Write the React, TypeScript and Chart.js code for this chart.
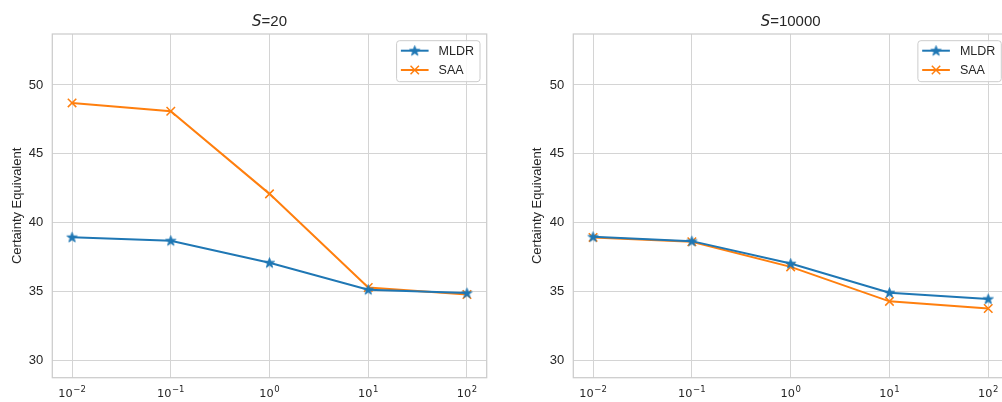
import React, { useEffect, useRef } from "react";
import { Chart, registerables } from "chart.js";

Chart.register(...registerables);

// ---- data ----
const xValues = [0.01, 0.1, 1, 10, 100];
const xTickBase = "10";
const xTickExponents = ["−2", "−1", "0", "1", "2"];
const yTicks = [30, 35, 40, 45, 50];
const seriesNames = ["MLDR", "SAA"];
const panelSizes = ["20", "10000"];
const yAxisLabel = "Certainty Equivalent";

const mldrS20 = [38.95, 38.7, 37.1, 35.15, 34.9];
const saaS20 = [48.7, 48.1, 42.1, 35.3, 34.8];
const mldrS10000 = [38.98, 38.67, 37.04, 34.93, 34.47];
const saaS10000 = [38.94, 38.62, 36.8, 34.3, 33.78];

// ---- style ----
const BLUE = "#1f77b4";
const ORANGE = "#ff7f0e";
const GRID = "#d4d4d4";
const TXT = "#262626";
const FONT = '"Liberation Sans", Arial, sans-serif';
const MATH_FONT = '"DejaVu Sans", sans-serif';
const Y_MIN = 28.76;
const Y_MAX = 53.7;
const X_MIN = Math.pow(10, -2.2);
const X_MAX = Math.pow(10, 2.2);

function makeStar(color: string): HTMLCanvasElement {
  const c = document.createElement("canvas");
  c.width = 13;
  c.height = 13;
  const ctx = c.getContext("2d")!;
  const cx = 6.5, cy = 6.8, ro = 5.4, ri = 2.2;
  ctx.beginPath();
  for (let i = 0; i < 10; i++) {
    const r = i % 2 === 0 ? ro : ri;
    const a = -Math.PI / 2 + (i * Math.PI) / 5;
    const px = cx + r * Math.cos(a);
    const py = cy + r * Math.sin(a);
    if (i === 0) ctx.moveTo(px, py);
    else ctx.lineTo(px, py);
  }
  ctx.closePath();
  ctx.fillStyle = color;
  ctx.fill();
  ctx.strokeStyle = color;
  ctx.lineWidth = 0.8;
  ctx.stroke();
  return c;
}

const framePlugin = {
  id: "frame",
  beforeDatasetsDraw(chart: any) {
    const { ctx, chartArea: a } = chart;
    ctx.save();
    ctx.strokeStyle = "#cccccc";
    ctx.lineWidth = 1.25;
    ctx.strokeRect(a.left, a.top, a.right - a.left, a.bottom - a.top);
    ctx.restore();
  },
};

const xLabelPlugin = {
  id: "powerLabels",
  afterDraw(chart: any) {
    const { ctx } = chart;
    const scale = chart.scales.x;
    ctx.save();
    ctx.fillStyle = TXT;
    ctx.textAlign = "left";
    ctx.textBaseline = "alphabetic";
    const baseFont = `11.3px ${MATH_FONT}`;
    const supFont = `8.5px ${MATH_FONT}`;
    scale.ticks.forEach((t: any, i: number) => {
      const x = scale.getPixelForValue(t.value);
      const exp = xTickExponents[i];
      ctx.font = baseFont;
      const wb = ctx.measureText(xTickBase).width;
      ctx.font = supFont;
      const ws = ctx.measureText(exp).width;
      const gap = 0.6;
      const x0 = x - (wb + ws + gap) / 2;
      const baseY = scale.top + 19;
      ctx.font = baseFont;
      ctx.fillText(xTickBase, x0, baseY);
      ctx.font = supFont;
      ctx.fillText(exp, x0 + wb + gap, baseY - 4.5);
    });
    ctx.restore();
  },
};

function makeTitlePlugin(sizeText: string) {
  return {
    id: "panelTitle",
    afterDraw(chart: any) {
      const { ctx, chartArea: a } = chart;
      ctx.save();
      const fItalic = `oblique 15px ${MATH_FONT}`;
      const fNormal = `15px ${FONT}`;
      ctx.font = fItalic;
      const w1 = ctx.measureText("S").width;
      ctx.font = fNormal;
      const rest = "=" + sizeText;
      const w2 = ctx.measureText(rest).width;
      const cx = (a.left + a.right) / 2;
      const x0 = cx - (w1 + w2) / 2;
      ctx.fillStyle = TXT;
      ctx.textBaseline = "alphabetic";
      ctx.textAlign = "left";
      ctx.font = fItalic;
      ctx.fillText("S", x0, 26.3);
      ctx.font = fNormal;
      ctx.fillText(rest, x0 + w1, 26.3);
      ctx.restore();
    },
  };
}

function makeLegendPlugin(star: HTMLCanvasElement) {
  return {
    id: "boxLegend",
    afterDraw(chart: any) {
      const { ctx, chartArea: a } = chart;
      const ds = chart.data.datasets;
      ctx.save();
      ctx.font = `12.5px ${FONT}`;
      let tw = 0;
      ds.forEach((d: any) => (tw = Math.max(tw, ctx.measureText(d.label).width)));
      const boxW = 4.3 + 27.7 + 10 + tw + 6;
      const boxH = 41;
      const right = a.right - 6.7;
      const top = a.top + 6.7;
      const left = right - boxW;
      const r = 3;
      ctx.beginPath();
      ctx.moveTo(left + r, top);
      ctx.lineTo(right - r, top);
      ctx.arcTo(right, top, right, top + r, r);
      ctx.lineTo(right, top + boxH - r);
      ctx.arcTo(right, top + boxH, right - r, top + boxH, r);
      ctx.lineTo(left + r, top + boxH);
      ctx.arcTo(left, top + boxH, left, top + boxH - r, r);
      ctx.lineTo(left, top + r);
      ctx.arcTo(left, top, left + r, top, r);
      ctx.closePath();
      ctx.fillStyle = "rgba(255,255,255,0.8)";
      ctx.fill();
      ctx.strokeStyle = "#cccccc";
      ctx.lineWidth = 1;
      ctx.stroke();
      ds.forEach((d: any, i: number) => {
        const y = top + 10 + i * 19.3;
        const x1 = left + 4.3;
        const x2 = x1 + 27.7;
        const mx = (x1 + x2) / 2;
        ctx.strokeStyle = d.borderColor;
        ctx.lineWidth = 2;
        ctx.beginPath();
        ctx.moveTo(x1, y);
        ctx.lineTo(x2, y);
        ctx.stroke();
        if (i === 0) {
          ctx.drawImage(star, mx - star.width / 2, y - star.height / 2);
        } else {
          const h = 4.2;
          ctx.lineWidth = 1.5;
          ctx.beginPath();
          ctx.moveTo(mx - h, y - h);
          ctx.lineTo(mx + h, y + h);
          ctx.moveTo(mx - h, y + h);
          ctx.lineTo(mx + h, y - h);
          ctx.stroke();
        }
        ctx.fillStyle = TXT;
        ctx.textAlign = "left";
        ctx.textBaseline = "middle";
        ctx.fillText(d.label, x2 + 10, y + 0.8);
      });
      ctx.restore();
    },
  };
}

type PanelProps = {
  left: number;
  width: number;
  axisWidth: number;
  padRight: number;
  sizeText: string;
  mldr: number[];
  saa: number[];
};

function Panel({ left, width, axisWidth, padRight, sizeText, mldr, saa }: PanelProps) {
  const ref = useRef<HTMLCanvasElement | null>(null);
  useEffect(() => {
    if (!ref.current) return;
    const star = makeStar(BLUE);
    const chart = new Chart(ref.current, {
      type: "line",
      data: {
        datasets: [
          {
            label: seriesNames[0],
            data: xValues.map((x, i) => ({ x, y: mldr[i] })),
            borderColor: BLUE,
            backgroundColor: BLUE,
            borderWidth: 2,
            pointStyle: star as any,
            pointRadius: 6,
            pointHoverRadius: 6,
            tension: 0,
          },
          {
            label: seriesNames[1],
            data: xValues.map((x, i) => ({ x, y: saa[i] })),
            borderColor: ORANGE,
            backgroundColor: ORANGE,
            borderWidth: 2,
            pointStyle: "crossRot",
            pointRadius: 6,
            pointHoverRadius: 6,
            pointBorderWidth: 1.5,
            pointBorderColor: ORANGE,
            tension: 0,
          },
        ],
      },
      options: {
        animation: false,
        responsive: false,
        maintainAspectRatio: false,
        events: [],
        layout: { padding: { left: 0, top: 34, right: padRight, bottom: 0 } },
        plugins: {
          legend: { display: false },
          title: { display: false },
          tooltip: { enabled: false },
        },
        scales: {
          x: {
            type: "logarithmic",
            min: X_MIN,
            max: X_MAX,
            afterBuildTicks: (s: any) => {
              s.ticks = xValues.map((v) => ({ value: v }));
            },
            afterFit: (s: any) => {
              s.height = 24.3;
            },
            grid: { color: GRID, lineWidth: 1, drawTicks: false },
            border: { display: false },
            ticks: { display: false, autoSkip: false, maxRotation: 0 },
          },
          y: {
            type: "linear",
            min: Y_MIN,
            max: Y_MAX,
            afterBuildTicks: (s: any) => {
              s.ticks = yTicks.map((v) => ({ value: v }));
            },
            afterFit: (s: any) => {
              s.width = axisWidth;
            },
            grid: { color: GRID, lineWidth: 1, drawTicks: false },
            border: { display: false },
            ticks: {
              padding: 9,
              color: TXT,
              font: { family: FONT, size: 13 },
              callback: (v: any) => String(v),
            },
            title: {
              display: true,
              text: yAxisLabel,
              color: TXT,
              font: { family: FONT, size: 13 },
              padding: { top: 9.7, bottom: 0 },
            },
          },
        },
      } as any,
      plugins: [framePlugin, xLabelPlugin, makeTitlePlugin(sizeText), makeLegendPlugin(star)],
    });
    return () => chart.destroy();
  }, []);
  return (
    <canvas
      ref={ref}
      width={width}
      height={402}
      style={{ position: "absolute", left, top: 0, width, height: 402 }}
    />
  );
}

export default function App() {
  return (
    <div
      style={{
        position: "fixed",
        left: 0,
        top: 0,
        width: 1002,
        height: 402,
        overflow: "hidden",
        background: "#ffffff",
      }}
    >
      <Panel left={0} width={500} axisWidth={52.3} padRight={13.3} sizeText={panelSizes[0]} mldr={mldrS20} saa={saaS20} />
      <Panel left={520} width={502} axisWidth={53.3} padRight={14} sizeText={panelSizes[1]} mldr={mldrS10000} saa={saaS10000} />
    </div>
  );
}
